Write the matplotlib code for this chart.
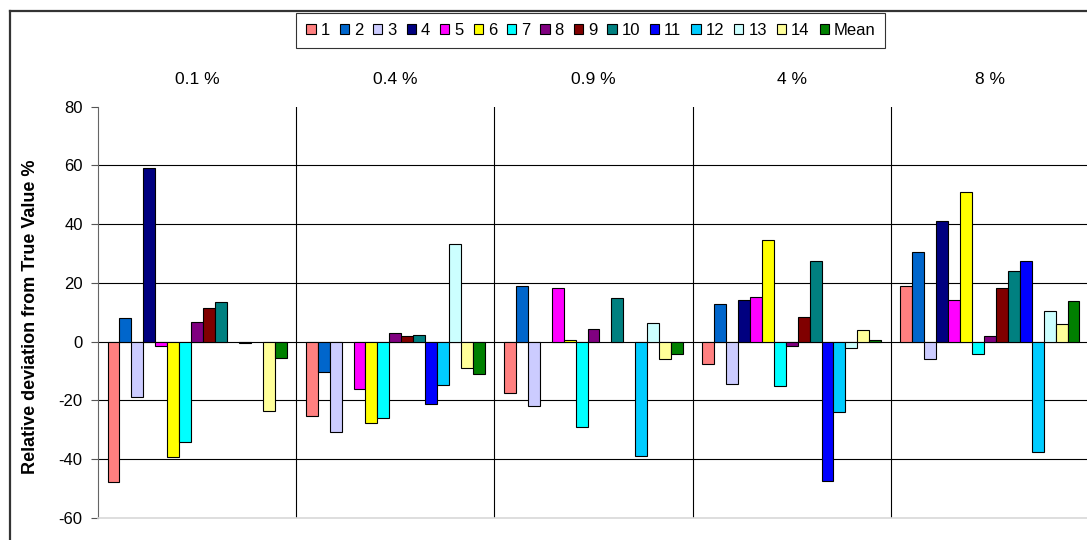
import numpy as np
import matplotlib
matplotlib.use("Agg")
import matplotlib.pyplot as plt
from matplotlib.patches import Patch
from matplotlib.lines import Line2D

plt.rcParams["font.family"] = ["Liberation Sans", "DejaVu Sans"]
plt.rcParams["axes.unicode_minus"] = False

categories = ["0.1 %", "0.4 %", "0.9 %", "4 %", "8 %"]
series = ["1", "2", "3", "4", "5", "6", "7", "8", "9", "10", "11", "12", "13", "14", "Mean"]
nan = np.nan
s1 = [-48.0, -25.2, -17.6, -7.6, 19.0]
s2 = [8.0, -10.5, 19.0, 12.8, 30.5]
s3 = [-19.0, -30.9, -21.9, -14.3, -6.1]
s4 = [59.1, nan, nan, 14.2, 40.9]
s5 = [-1.4, -16.2, 18.1, 15.2, 14.2]
s6 = [-39.4, -27.6, 0.5, 34.7, 50.9]
s7 = [-34.2, -26.1, -29.1, -15.2, -4.2]
s8 = [6.7, 2.8, 4.3, -1.5, 1.9]
s9 = [11.4, 1.8, nan, 8.5, 18.1]
s10 = [13.4, 2.4, 14.8, 27.5, 24.2]
s11 = [nan, -21.4, nan, -47.6, 27.6]
s12 = [-0.5, -14.8, -39.1, -23.9, -37.5]
s13 = [nan, 33.3, 6.2, -2.3, 10.5]
s14 = [-23.8, -8.9, -5.8, 3.9, 6.1]
s_mean = [-5.7, -10.9, -4.3, 0.5, 13.8]
values = [s1, s2, s3, s4, s5, s6, s7, s8, s9, s10, s11, s12, s13, s14, s_mean]
colors = ["#FF8080", "#0066CC", "#CCCCFF", "#000080", "#FF00FF", "#FFFF00", "#00FFFF",
          "#800080", "#800000", "#008080", "#0000FF", "#00CCFF", "#CCFFFF", "#FFFF99", "#008000"]

W, H = 1087, 540
fig = plt.figure(figsize=(W/100, H/100), dpi=100)
ax = fig.add_axes([98/W, 1-517.7/H, (1089-98)/W, 411/H])

n = len(series)
bw = 1/(n+1.6)
x0 = np.arange(len(categories)) + 0.8*bw
for i, (name, vals, c) in enumerate(zip(series, values, colors)):
    ax.bar(x0 + i*bw, vals, width=bw, align="edge", color=c, edgecolor="black", linewidth=0.8, zorder=3)

ax.set_xlim(0, len(categories))
ax.set_ylim(-60, 80)
ax.set_yticks(range(-60, 81, 20))
ax.tick_params(axis="y", labelsize=12, length=5, pad=6, direction="out", color="#555555")
ax.set_xticks([])
for yv in range(-40, 61, 20):
    ax.axhline(yv, color="black", lw=0.8, zorder=1)
for xv in range(1, len(categories)):
    ax.axvline(xv, color="black", lw=0.8, zorder=1)
for sp in ["top", "right"]:
    ax.spines[sp].set_visible(False)
ax.spines["left"].set_color("#666666")
ax.spines["bottom"].set_color("#d8d8d8")
ax.spines["bottom"].set_linewidth(1.2)
for i, cat in enumerate(categories):
    ax.text(i+0.5, 1.067, cat, transform=ax.get_xaxis_transform(), ha="center", va="center", fontsize=12.5)
ax.set_ylabel("Relative deviation from True Value %", fontsize=13, fontweight="bold")
ax.yaxis.set_label_coords(-0.0595, 0.49)

# outer chart frame (cut off on right and bottom)
fig.add_artist(Line2D([9.5/W, 1.0], [1-11/H, 1-11/H], color="#333333", lw=1.6))
fig.add_artist(Line2D([9.5/W, 9.5/W], [0, 1-11/H], color="#333333", lw=1.6))

handles = [Patch(facecolor=c, edgecolor="black", linewidth=0.8) for c in colors]
leg = fig.legend(handles, series, loc="center", bbox_to_anchor=(590.9/W, 1-30.8/H), ncol=n,
                 fontsize=12, frameon=True, fancybox=False, edgecolor="black",
                 handlelength=0.55, handleheight=0.55, handletextpad=0.3, columnspacing=0.6,
                 borderpad=0.6)
leg.get_frame().set_linewidth(0.8)

fig.savefig("out.png", dpi=100)
